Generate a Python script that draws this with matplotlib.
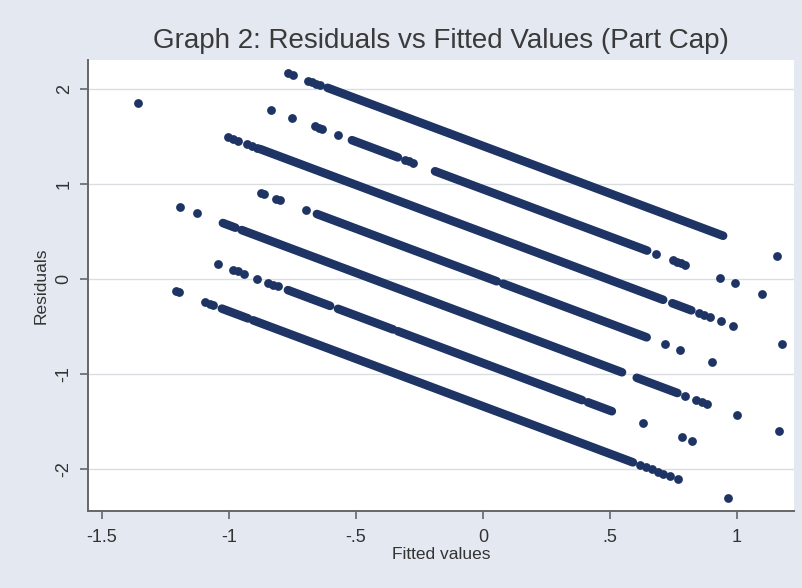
import matplotlib
matplotlib.use("Agg")
import matplotlib.pyplot as plt

# observed outcome levels (each diagonal band: residual = level - fitted)
obs_levels = [1.40, 0.945, 0.49, 0.03, -0.435, -0.885, -1.34]

# fitted values of isolated markers, one list per band
isolated_fitted = [
    [-0.768, -0.748, -0.688, -0.672, -0.656, -0.642, 1.157],
    [-0.835, -0.752, -0.661, -0.645, -0.634, -0.571, -0.307, -0.292, -0.276,
     0.681, 0.748, 0.765, 0.78, 0.795, 0.933, 0.992, 1.098],
    [-1.358, -1.004, -0.985, -0.966, -0.93, -0.91, -0.89,
     0.85, 0.87, 0.893, 0.935, 0.984, 1.177],
    [-0.875, -0.862, -0.815, -0.80, -0.697, 0.717, 0.776, 0.90],
    [-1.193, -1.126, 0.795, 0.84, 0.86, 0.882, 1.0, 1.165],
    [-1.043, -0.984, -0.965, -0.94, -0.89, -0.846, -0.827, -0.807,
     0.63, 0.783, 0.823],
    [-1.21, -1.198, -1.094, -1.075, -1.063,
     0.618, 0.64, 0.664, 0.69, 0.71, 0.736, 0.769, 0.965],
]

# stretches of fitted values where markers overlap into a solid run
dense_runs = [
    [(-0.612, 0.945)],
    [(-0.516, -0.335), (-0.189, 0.646)],
    [(-0.878, 0.709), (0.745, 0.82)],
    [(-0.654, 0.054), (0.079, 0.644)],
    [(-1.024, -0.975), (-0.95, 0.547), (0.605, 0.765)],
    [(-0.768, -0.602), (-0.571, -0.354), (-0.335, 0.39), (0.413, 0.507)],
    [(-1.028, -0.925), (-0.905, 0.59)],
]

x_ticks = [-1.5, -1, -0.5, 0, 0.5, 1]
x_labels = ["-1.5", "-1", "-.5", "0", ".5", "1"]
y_ticks = [-2, -1, 0, 1, 2]
y_labels = ["-2", "-1", "0", "1", "2"]

bg = "#E3E8F1"
navy = "#1E3465"
txt = "#333333"
axcol = "#666666"

plt.rcParams["font.family"] = ["Liberation Sans", "DejaVu Sans"]

fig = plt.figure(figsize=(8.03, 5.88), dpi=100, facecolor=bg)
ax = fig.add_axes([88 / 803, 77 / 588, 706 / 803, 451 / 588])
ax.set_facecolor("white")

for level, pts, runs in zip(obs_levels, isolated_fitted, dense_runs):
    for a, b in runs:
        ax.plot([a, b], [level - a, level - b], color=navy, lw=6.2,
                solid_capstyle="round", zorder=3)
    ax.scatter(pts, [level - f for f in pts], s=40, color=navy,
               linewidths=0, zorder=3)

ax.set_xlim(-1.555, 1.224)
ax.set_ylim(-2.442, 2.305)

ax.set_xticks(x_ticks)
ax.set_xticklabels(x_labels)
ax.set_yticks(y_ticks)
ax.set_yticklabels(y_labels, rotation=90, va="center")

ax.grid(axis="y", color="#DADDE2", lw=1.0, zorder=0)
ax.set_axisbelow(True)

for s in ["top", "right"]:
    ax.spines[s].set_visible(False)
for s in ["left", "bottom"]:
    ax.spines[s].set_color(axcol)
    ax.spines[s].set_linewidth(1.4)

ax.tick_params(direction="out", length=6, width=1.2, color=axcol,
               labelsize=13, labelcolor=txt)
ax.tick_params(axis="x", pad=7)
ax.tick_params(axis="y", pad=5)

ax.set_xlabel("Fitted values", fontsize=12.5, color=txt, labelpad=1)
ax.set_ylabel("Residuals", fontsize=12.5, color=txt, labelpad=5)
ax.set_title("Graph 2: Residuals vs Fitted Values (Part Cap)", fontsize=20,
             color="#3A3A3A", pad=9)

fig.savefig("out.png", dpi=100, facecolor=bg)
